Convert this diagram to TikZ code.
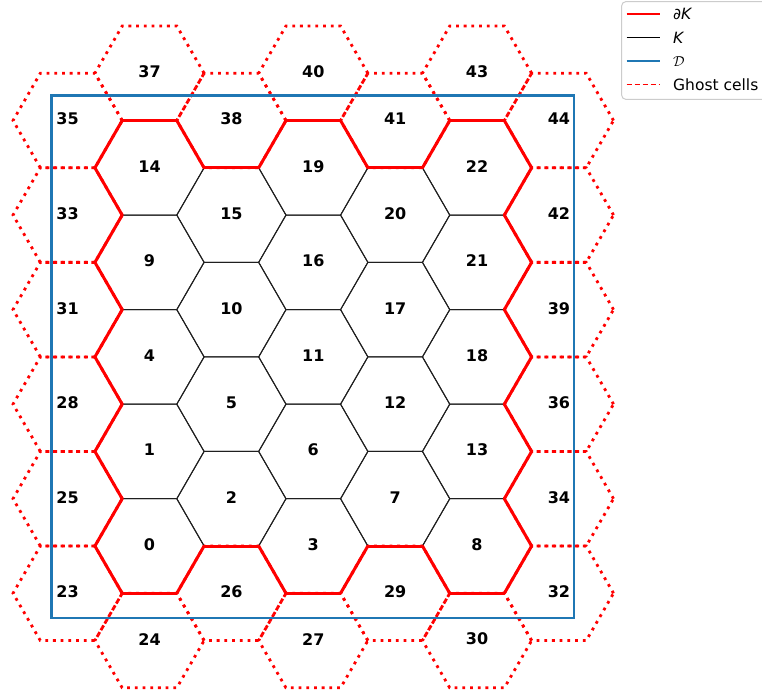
\documentclass[tikz,border=0pt]{standalone}
\usepackage{fontspec}
\setmainfont{DejaVu Sans}
\definecolor{mplblue}{HTML}{1F77B4}
\definecolor{legedge}{HTML}{CCCCCC}
\tikzset{
  ghostline/.style={red, line width=2.8pt, dash pattern=on 2.8pt off 4.9pt},
  innerline/.style={black!88, line width=1pt},
  bndline/.style={red, line width=3pt, line cap=round},
  domline/.style={mplblue, line width=2.7pt},
  lab/.style={font=\fontsize{16}{19}\selectfont\bfseries, inner sep=0pt, yshift=1.4pt},
  legtext/.style={font=\fontsize{15.5}{18}\selectfont, anchor=base west, inner sep=0pt},
  legbox/.style={draw=legedge, line width=1pt, fill=white, fill opacity=0.8, rounded corners=4pt},
}
\begin{document}
\begin{tikzpicture}[x=1pt,y=-1pt]
\useasboundingbox (0,0) rectangle (762,696);
\clip (0,0) rectangle (762,696);
% ghost cells (dotted)
\foreach \i/\c/\k in {23/-1/-1, 25/-1/1, 28/-1/3, 31/-1/5, 33/-1/7, 35/-1/9,
  24/0/-2, 37/0/10, 26/1/-1, 38/1/9, 27/2/-2, 40/2/10, 29/3/-1, 41/3/9, 30/4/-2, 43/4/10,
  32/5/-1, 34/5/1, 36/5/3, 39/5/5, 42/5/7, 44/5/9}{
  \pgfmathsetmacro\cx{149.5+81.885*(\c)}
  \pgfmathsetmacro\cy{546-47.275*(\k)}
  \draw[ghostline] (\cx+54.59,\cy) -- (\cx+27.295,\cy-47.275) -- (\cx-27.295,\cy-47.275)
    -- (\cx-54.59,\cy) -- (\cx-27.295,\cy+47.275) -- (\cx+27.295,\cy+47.275) -- cycle;
}
% interior cells (black)
\foreach \i/\c/\k in {0/0/0, 1/0/2, 4/0/4, 9/0/6, 14/0/8,
  2/1/1, 5/1/3, 10/1/5, 15/1/7,
  3/2/0, 6/2/2, 11/2/4, 16/2/6, 19/2/8,
  7/3/1, 12/3/3, 17/3/5, 20/3/7,
  8/4/0, 13/4/2, 18/4/4, 21/4/6, 22/4/8}{
  \pgfmathsetmacro\cx{149.5+81.885*(\c)}
  \pgfmathsetmacro\cy{546-47.275*(\k)}
  \draw[innerline] (\cx+54.59,\cy) -- (\cx+27.295,\cy-47.275) -- (\cx-27.295,\cy-47.275)
    -- (\cx-54.59,\cy) -- (\cx-27.295,\cy+47.275) -- (\cx+27.295,\cy+47.275) -- cycle;
}
% boundary edges (thick red)
\foreach \c/\k/\a in {0/0/120,0/0/180,0/2/120,0/2/180,0/4/120,0/4/180,0/6/120,0/6/180,0/8/120,0/8/180,
  0/0/240,0/0/300,0/8/60,0/8/0,
  1/1/240,1/7/60,
  2/0/180,2/0/240,2/0/300,2/8/120,2/8/60,2/8/0,
  3/1/240,3/7/60,
  4/0/0,4/0/300,4/2/0,4/2/300,4/4/0,4/4/300,4/6/0,4/6/300,4/8/0,4/8/300,
  4/0/180,4/0/240,4/8/120,4/8/60}{
  \pgfmathsetmacro\xa{149.5+81.885*(\c)+54.59*cos(\a)}
  \pgfmathsetmacro\ya{546-47.275*(\k)-54.59*sin(\a)}
  \pgfmathsetmacro\xb{149.5+81.885*(\c)+54.59*cos(\a+60)}
  \pgfmathsetmacro\yb{546-47.275*(\k)-54.59*sin(\a+60)}
  \draw[bndline] (\xa,\ya) -- (\xb,\yb);
}
% domain
\draw[domline] (51.7,95.7) rectangle (574,618);
% labels
\foreach \i/\c/\k in {0/0/0, 1/0/2, 4/0/4, 9/0/6, 14/0/8,
  2/1/1, 5/1/3, 10/1/5, 15/1/7,
  3/2/0, 6/2/2, 11/2/4, 16/2/6, 19/2/8,
  7/3/1, 12/3/3, 17/3/5, 20/3/7,
  8/4/0, 13/4/2, 18/4/4, 21/4/6, 22/4/8,
  23/-1/-1, 25/-1/1, 28/-1/3, 31/-1/5, 33/-1/7, 35/-1/9,
  24/0/-2, 37/0/10, 26/1/-1, 38/1/9, 27/2/-2, 40/2/10, 29/3/-1, 41/3/9, 30/4/-2, 43/4/10,
  32/5/-1, 34/5/1, 36/5/3, 39/5/5, 42/5/7, 44/5/9}{
  \pgfmathsetmacro\cx{149.5+81.885*(\c)}
  \pgfmathsetmacro\cy{546-47.275*(\k)}
  \node[lab] (c\i) at (\cx,\cy) {\i};
}
% legend
\draw[legbox] (621.7,1.7) rectangle (790,99.3);
\draw[red, line width=1.5pt] (626.7,14) -- (660,14);
\draw[black, line width=1.5pt] (626.7,37.3) -- (660,37.3);
\draw[mplblue, line width=1.5pt] (626.7,61) -- (660,61);
\draw[red, line width=1.5pt, dash pattern=on 5.5pt off 2.5pt] (626.7,84.3) -- (660,84.3);
\node[legtext] (lk) at (673,19.7) {∂\textit{K}};
\node[legtext] (lK) at (673,43) {\itshape K};
\node[legtext] (lD) at (673,66.7) {$\mathcal{D}$};
\node[legtext] (lg) at (673,90) {Ghost cells};
\end{tikzpicture}
\end{document}
